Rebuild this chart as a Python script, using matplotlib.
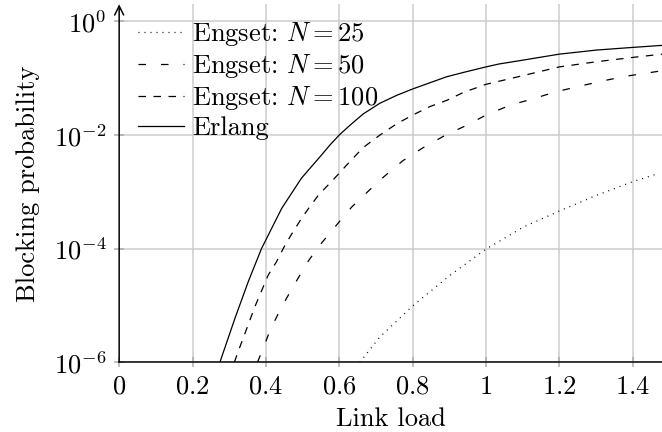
import matplotlib
matplotlib.use("Agg")
import matplotlib.pyplot as plt
from matplotlib.ticker import FixedLocator, FixedFormatter, LogFormatterMathtext

plt.rcParams["font.family"] = "serif"
plt.rcParams["font.serif"] = ["cmr10", "DejaVu Serif"]
plt.rcParams["mathtext.fontset"] = "cm"
plt.rcParams["axes.unicode_minus"] = False
plt.rcParams["axes.formatter.use_mathtext"] = True
plt.rcParams["lines.scale_dashes"] = False
plt.rcParams["font.size"] = 10.6

# values (link load, blocking probability)
erlang_x = [0.2746, 0.3155, 0.352, 0.388, 0.443, 0.497, 0.552, 0.574, 0.6, 0.629,
            0.665, 0.711, 0.757, 0.8, 0.847, 0.893, 0.938, 1.0, 1.036, 1.093,
            1.2, 1.302, 1.4, 1.48]
erlang_y = [1.0e-6, 5.9e-6, 2.63e-5, 1.0e-4, 5.1e-4, 1.74e-3, 4.47e-3, 6.6e-3, 1.0e-2, 1.48e-2,
            2.34e-2, 3.63e-2, 5.0e-2, 6.46e-2, 8.3e-2, 0.106, 0.126, 0.158, 0.178, 0.204,
            0.265, 0.313, 0.348, 0.378]

n100_x = [0.314, 0.3245, 0.343, 0.370, 0.406, 0.429, 0.452, 0.4745, 0.497, 0.520,
          0.543, 0.574, 0.602, 0.620, 0.665, 0.711, 0.757, 0.8, 0.847, 0.893,
          0.938, 1.0, 1.093, 1.2, 1.302, 1.4, 1.48]
n100_y = [1.0e-6, 1.55e-6, 3.24e-6, 9.5e-6, 3.39e-5, 5.9e-5, 1.15e-4, 2.0e-4, 3.39e-4, 5.5e-4,
          8.7e-4, 1.41e-3, 2.19e-3, 2.95e-3, 6.0e-3, 1.0e-2, 1.58e-2, 2.24e-2, 3.16e-2, 4.07e-2,
          5.6e-2, 7.8e-2, 0.108, 0.158, 0.195, 0.232, 0.265]

n50_x = [0.377, 0.393, 0.411, 0.443, 0.4745, 0.511, 0.547, 0.588, 0.634, 0.684,
         0.724, 0.774, 0.829, 0.888, 0.947, 1.0, 1.066, 1.13, 1.19, 1.256,
         1.32, 1.384, 1.456, 1.48]
n50_y = [1.0e-6, 1.78e-6, 3.6e-6, 9.5e-6, 2.14e-5, 5.5e-5, 1.15e-4, 2.4e-4, 5.4e-4, 1.1e-3,
         1.9e-3, 3.55e-3, 6.0e-3, 9.8e-3, 1.48e-2, 2.24e-2, 3.35e-2, 4.37e-2, 5.75e-2, 7.24e-2,
         9.0e-2, 0.109, 0.128, 0.135]

n25_x = [0.656, 0.711, 0.8, 0.902, 1.0, 1.102, 1.2, 1.302, 1.4, 1.47]
n25_y = [1.0e-6, 2.8e-6, 9.8e-6, 3.4e-5, 9.8e-5, 2.4e-4, 4.6e-4, 8.7e-4, 1.51e-3, 2.1e-3]

x_ticks = [0, 0.2, 0.4, 0.6, 0.8, 1.0, 1.2, 1.4]
x_tick_labels = ["$0$", "$0.2$", "$0.4$", "$0.6$", "$0.8$", "$1$", "$1.2$", "$1.4$"]
y_ticks = [1e-6, 1e-4, 1e-2, 1e0]

fig = plt.figure(figsize=(662 / 180, 432 / 180), dpi=180)
ax = fig.add_axes([0.180, 0.1613, 0.820, 0.8287])

lw = 0.5
ax.plot(n25_x, n25_y, color="black", lw=lw, linestyle=(0, (0.4, 2.0)),
        label="Engset: $N = 25$")
ax.plot(n50_x, n50_y, color="black", lw=lw, linestyle=(0, (3, 6)),
        label="Engset: $N = 50$")
ax.plot(n100_x, n100_y, color="black", lw=lw, linestyle=(0, (3, 3)),
        label="Engset: $N = 100$")
ax.plot(erlang_x, erlang_y, color="black", lw=lw, label="Erlang")

ax.set_yscale("log")
ax.set_xlim(0, 1.48)
ax.set_ylim(1e-6, 10 ** 0.3)

ax.xaxis.set_major_locator(FixedLocator(x_ticks))
ax.xaxis.set_major_formatter(FixedFormatter(x_tick_labels))
ax.yaxis.set_major_locator(FixedLocator(y_ticks))
ax.yaxis.set_major_formatter(LogFormatterMathtext())
ax.yaxis.set_minor_locator(FixedLocator([]))

ax.grid(True, color="#cccccc", lw=0.6)
ax.set_axisbelow(True)
ax.tick_params(direction="inout", length=4, width=0.6, color="#aaaaaa",
               labelsize=10.6, pad=3)

for s in ["top", "right"]:
    ax.spines[s].set_visible(False)
ax.spines["bottom"].set_linewidth(0.6)
ax.spines["left"].set_visible(False)
ax.annotate("", xy=(0, 1.0), xytext=(0, 0), xycoords="axes fraction",
            arrowprops=dict(arrowstyle="->", lw=0.6, color="black",
                            shrinkA=0, shrinkB=0, mutation_scale=9),
            annotation_clip=False)

ax.set_xlabel("Link load")
ax.set_ylabel("Blocking probability")
ax.xaxis.set_label_coords(0.5, -0.125)
ax.yaxis.set_label_coords(-0.146, 0.5)

ax.legend(loc="upper left", bbox_to_anchor=(0.034, 0.955), frameon=False,
          borderpad=0, borderaxespad=0, handlelength=1.75, handletextpad=0.3,
          labelspacing=0.15, fontsize=10.6)

fig.savefig("out.png", dpi=180)
